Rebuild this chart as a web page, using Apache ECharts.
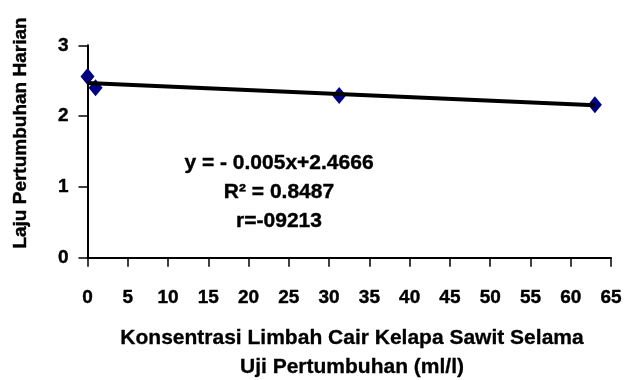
<!DOCTYPE html>
<html>
<head>
<meta charset="utf-8">
<script src="https://cdn.jsdelivr.net/npm/echarts@6/dist/echarts.min.js"></script>
<style>html,body{margin:0;padding:0;background:#fff}#c{width:626px;height:380px}</style>
</head>
<body>
<div id="c"></div>
<script>
// Data
const concentrations = [0, 1, 31.25, 63];
const growthRates = [2.56, 2.40, 2.29, 2.16];
// Trend line coefficients (from equation shown)
const trendSlope = -0.005;
const trendIntercept = 2.4666;
const xTicks = [0, 65, 5];   // min, max, interval
const yTicks = [0, 3, 1];
const annotationLines = ['y = - 0.005x+2.4666', 'R\u00B2 = 0.8487', 'r=-09213'];
const xTitleLines = ['Konsentrasi Limbah Cair Kelapa Sawit Selama', 'Uji Pertumbuhan (ml/l)'];
const yTitle = 'Laju Pertumbuhan Harian';

const FONT = '"Liberation Sans", Arial, sans-serif';
const points = concentrations.map((x, i) => [x, growthRates[i]]);
const xMaxData = Math.max(...concentrations);
const trend = [[0, trendIntercept], [xMaxData, trendIntercept + trendSlope * xMaxData]];

const chart = echarts.init(document.getElementById('c'), null, {renderer: 'canvas'});
chart.setOption({
  animation: false,
  backgroundColor: '#ffffff',
  grid: {left: 87.5, right: 15, top: 45.3, bottom: 122.3, containLabel: false},
  xAxis: {
    type: 'value', min: xTicks[0], max: xTicks[1], interval: xTicks[2],
    axisLine: {show: true, onZero: false, lineStyle: {color: '#000', width: 2}},
    axisTick: {show: true, length: 9, lineStyle: {color: '#000', width: 1.5}},
    splitLine: {show: false},
    axisLabel: {margin: 31, color: '#000', fontFamily: FONT, fontWeight: 'bold', fontSize: 19,
      textBorderColor: '#000', textBorderWidth: 0.4}
  },
  yAxis: {
    type: 'value', min: yTicks[0], max: yTicks[1], interval: yTicks[2],
    axisLine: {show: true, onZero: false, lineStyle: {color: '#000', width: 2}},
    axisTick: {show: true, length: 9, lineStyle: {color: '#000', width: 1.5}},
    splitLine: {show: false},
    axisLabel: {margin: 19, color: '#000', fontFamily: FONT, fontWeight: 'bold', fontSize: 19,
      textBorderColor: '#000', textBorderWidth: 0.4}
  },
  series: [
    {
      type: 'scatter', data: points, symbol: 'diamond', symbolSize: [14, 17],
      itemStyle: {color: '#000080', opacity: 1}, z: 2
    },
    {
      type: 'line', data: trend, symbol: 'none', z: 3,
      lineStyle: {color: '#000', width: 4}
    }
  ],
  graphic: [
    {
      type: 'text', z: 10,
      x: 279, y: 192,
      style: {text: annotationLines.join('\n'), fill: '#000', font: 'bold 21px ' + FONT,
        align: 'center', verticalAlign: 'middle', lineHeight: 29, stroke: '#000', lineWidth: 0.4}
    },
    {
      type: 'text', z: 10,
      x: 352, y: 353,
      style: {text: xTitleLines.join('\n'), fill: '#000', font: 'bold 21px ' + FONT,
        align: 'center', verticalAlign: 'middle', lineHeight: 29, stroke: '#000', lineWidth: 0.3}
    },
    {
      type: 'text', z: 10,
      x: 21, y: 133, rotation: Math.PI / 2,
      style: {text: yTitle, fill: '#000', font: 'bold 19px ' + FONT,
        align: 'center', verticalAlign: 'middle', stroke: '#000', lineWidth: 0.4}
    }
  ]
});
</script>
</body>
</html>
